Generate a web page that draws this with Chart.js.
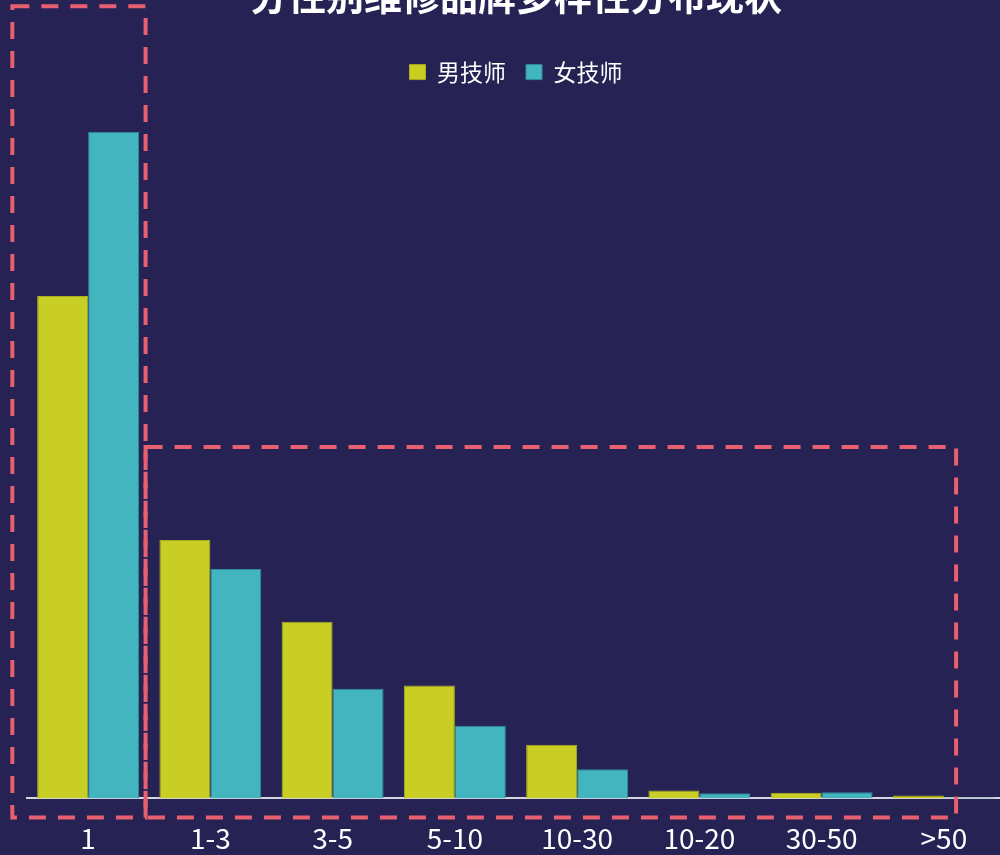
<!DOCTYPE html>
<html>
<head>
<meta charset="utf-8">
<script src="https://cdn.jsdelivr.net/npm/chart.js@4"></script>
<style>
  html, body { margin: 0; padding: 0; background: #262254; overflow: hidden; }
  body { width: 1000px; height: 855px; position: relative; }
  #wrap { position: absolute; left: 0; top: -30px; width: 1005px; height: 900px; }
</style>
</head>
<body>
<div id="wrap"><canvas id="chart"></canvas></div>
<script>
const categories = ['1', '1-3', '3-5', '5-10', '10-30', '10-20', '30-50', '>50'];
const maleValues = [44.9, 23.1, 15.8, 10.1, 4.8, 0.7, 0.5, 0.27];
const femaleValues = [59.6, 20.5, 9.8, 6.5, 2.6, 0.45, 0.54, 0.09];
const seriesNames = ['男技师', '女技师'];
const titleText = '分性别维修品牌多样性分布现状';

// highlight boxes: [from category, to category, top value, bottom value]
const highlightBoxes = [
    [-0.62, 0.47, 70.8, -1.7],
    [0.47, 7.1, 31.4, -1.7]
];

const fontFamily = '"Noto Sans CJK SC", "Noto Sans", sans-serif';

const dashedBoxes = {
    id: 'dashedBoxes',
    afterDraw(chart) {
        const { ctx, scales: { x, y } } = chart;
        ctx.save();
        ctx.strokeStyle = '#e8606f';
        ctx.lineWidth = 4;
        ctx.setLineDash([17, 12]);
        highlightBoxes.forEach(([c0, c1, v0, v1]) => {
            const left = x.getPixelForValue(c0);
            const right = x.getPixelForValue(c1);
            const top = y.getPixelForValue(v0);
            const bottom = y.getPixelForValue(v1);
            ctx.strokeRect(left, top, right - left, bottom - top);
        });
        ctx.restore();
    }
};

new Chart(document.getElementById('chart').getContext('2d'), {
    type: 'bar',
    data: {
        labels: categories,
        datasets: [{
            label: seriesNames[0],
            data: maleValues,
            backgroundColor: '#c8ce24',
            borderColor: '#a9ae22',
            borderWidth: 1
        }, {
            label: seriesNames[1],
            data: femaleValues,
            backgroundColor: '#42b5bf',
            borderColor: '#2f8e99',
            borderWidth: 1
        }]
    },
    options: {
        responsive: true,
        maintainAspectRatio: false,
        animation: false,
        layout: { padding: { left: 27, right: 0, top: 0, bottom: 0 } },
        datasets: { bar: { categoryPercentage: 0.834, barPercentage: 1 } },
        scales: {
            x: {
                grid: { display: false },
                border: { display: true, color: '#d6d6de', width: 2 },
                ticks: { color: '#ffffff', padding: 15, font: { family: fontFamily, size: 28 } }
            },
            y: {
                display: false,
                min: 0,
                max: 63
            }
        },
        plugins: {
            title: {
                display: true,
                text: titleText,
                color: '#ffffff',
                padding: { top: 3, bottom: 22 },
                font: { family: fontFamily, size: 38, weight: 'bold' }
            },
            legend: {
                display: true,
                position: 'top',
                labels: {
                    color: '#ffffff',
                    boxWidth: 16,
                    boxHeight: 15,
                    padding: 20,
                    font: { family: fontFamily, size: 23 }
                }
            },
            tooltip: { enabled: false }
        }
    },
    plugins: [dashedBoxes]
});
</script>
</body>
</html>
